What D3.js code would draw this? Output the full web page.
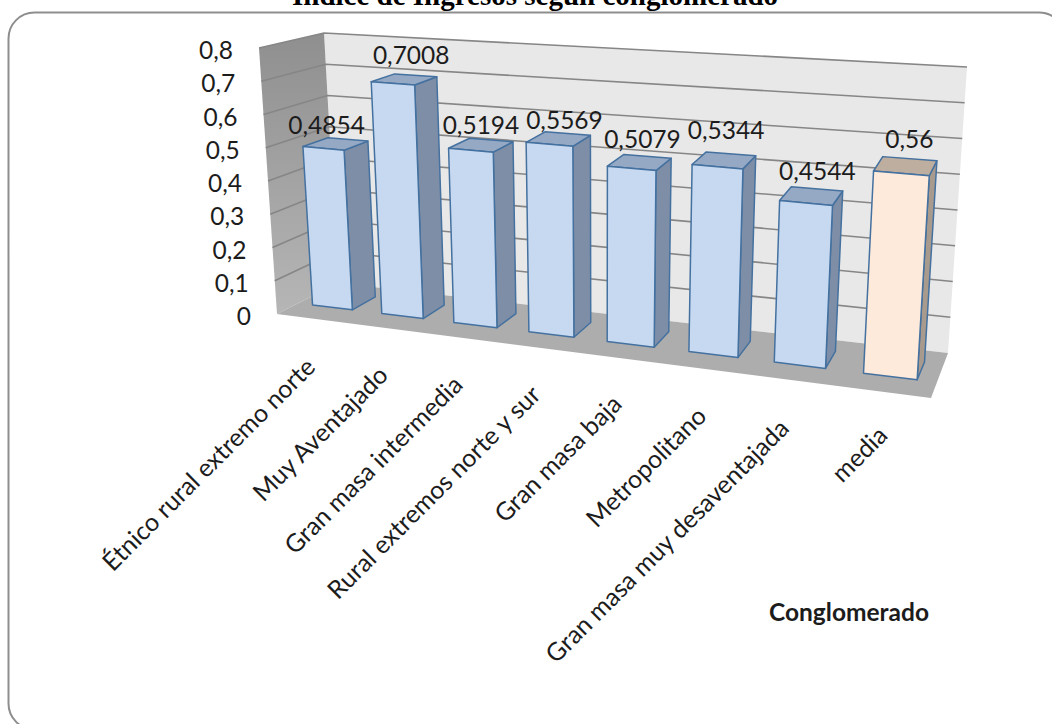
<!DOCTYPE html>
<html lang="es">
<head>
<meta charset="utf-8">
<title>Índice de Ingresos según conglomerado</title>
<script src="https://cdn.jsdelivr.net/npm/d3@7/dist/d3.min.js"></script>
<style>
  html, body { margin: 0; padding: 0; background: #fff; overflow: hidden; }
  svg { display: block; }
  text { fill: #1c1c1c; font-family: Lato, "Open Sans", sans-serif; }
</style>
</head>
<body>
<script>
// Chart content
const chartTitle = "Índice de Ingresos según conglomerado";
const axisTitle = "Conglomerado";
const categories = [
  "Étnico rural extremo norte", "Muy Aventajado", "Gran masa intermedia",
  "Rural extremos norte y sur", "Gran masa baja", "Metropolitano",
  "Gran masa muy desaventajada", "media"
];
const values = [0.4854, 0.7008, 0.5194, 0.5569, 0.5079, 0.5344, 0.4544, 0.56];
const valueTexts = ["0,4854", "0,7008", "0,5194", "0,5569", "0,5079", "0,5344", "0,4544", "0,56"];
const tickValues = [0, 0.1, 0.2, 0.3, 0.4, 0.5, 0.6, 0.7, 0.8];
const tickLabels = ["0", "0,1", "0,2", "0,3", "0,4", "0,5", "0,6", "0,7", "0,8"];

// Hand-placed value labels, as offsets from the top centre of each column
const labelShift = [[-9, -19], [7, -25], [0, -21], [6, -19], [3, -24], [2, -31], [6, -25], [4, -28]];
// Hand-placed category labels, as offsets from the end of each label's default spot
const categoryShift = [[-5, -2], [-4, -3], [-4, -3], [-4, -3], [-4, -4], [-4, -3], [-10, -2], [-4, -7]];

const W = 1052, H = 724;

// Screen position of the eight corners of the plot box: [s, d, z] in 0..1
const box = {
  "000": [277, 314], "100": [931, 398], "010": [338, 283], "110": [948, 353],
  "001": [259, 48],  "101": [949, 102], "011": [324, 33],  "111": [967, 67]
};

// Trilinear placement of a point inside the box
function place(s, d, z) {
  const out = [0, 0];
  for (const a of [0, 1]) for (const b of [0, 1]) for (const c of [0, 1]) {
    const k = (a ? s : 1 - s) * (b ? d : 1 - d) * (c ? z : 1 - z);
    const p = box[`${a}${b}${c}`];
    out[0] += k * p[0];
    out[1] += k * p[1];
  }
  return out;
}

// Foreshortening along the category axis
const foreshorten = 1.186;
const perspective = u => u / (u + (1 - u) * foreshorten);

const xBand = d3.scaleBand().domain(categories).range([0, 1]).paddingInner(0.42).paddingOuter(0.21);
const zScale = d3.scaleLinear().domain([0, 0.8]).range([0, 1]);
const depthFront = 0.35, depthBack = 0.75;

const polygon = d3.line();
const svg = d3.select("body").append("svg").attr("width", W).attr("height", H);

const defs = svg.append("defs");
const sideGrad = defs.append("linearGradient").attr("id", "sideWall")
  .attr("x1", 0).attr("y1", 0).attr("x2", 0).attr("y2", 1);
sideGrad.append("stop").attr("offset", 0).attr("stop-color", "#8f8f8f");
sideGrad.append("stop").attr("offset", 1).attr("stop-color", "#b6b6b6");

// Outer frame, running past the right and bottom of the page
svg.append("rect")
  .attr("x", 8.5).attr("y", 12.5).attr("width", 1056.5).attr("height", 717)
  .attr("rx", 26).attr("ry", 26)
  .attr("fill", "#fff").attr("stroke", "#8e8e8e").attr("stroke-width", 2);

// Title, cut by the top of the page
svg.append("text")
  .attr("x", 535).attr("y", 5).attr("text-anchor", "middle")
  .style("font-family", '"Liberation Serif", serif').style("font-weight", 700)
  .style("font-size", "29px").style("fill", "#000")
  .text(chartTitle);

const plot = svg.append("g");

// Walls and floor
const quad = pts => polygon(pts) + "Z";
plot.append("path").attr("d", quad([place(0, 1, 0), place(1, 1, 0), place(1, 1, 1), place(0, 1, 1)]))
  .attr("fill", "#e8e8e8");
plot.append("path").attr("d", quad([place(0, 0, 0), place(0, 1, 0), place(0, 1, 1), place(0, 0, 1)]))
  .attr("fill", "url(#sideWall)");
plot.append("path").attr("d", quad([place(0, 0, 0), place(1, 0, 0), place(1, 1, 0), place(0, 1, 0)]))
  .attr("fill", "#adadad");

// Gridlines along the side wall and the back wall
plot.selectAll("path.grid").data(tickValues.filter(v => v > 0)).join("path")
  .attr("class", "grid")
  .attr("d", v => polygon([place(0, 0, zScale(v)), place(0, 1, zScale(v)), place(1, 1, zScale(v))]))
  .attr("fill", "none").attr("stroke", "#868686").attr("stroke-width", 1.6);

// Columns
const columns = plot.selectAll("g.column").data(categories.map((c, i) => ({ c, i, v: values[i] }))).join("g")
  .attr("class", "column");

const colours = i => i === 7
  ? { front: "#fdeada", side: "#a89a8d", top: "#bdae9f" }
  : { front: "#c6d9f1", side: "#7e8ea7", top: "#95a8c4" };

function faces(d) {
  const a = perspective(xBand(d.c));
  const b = perspective(xBand(d.c) + xBand.bandwidth());
  const z = zScale(d.v);
  return {
    front: [place(a, depthFront, 0), place(b, depthFront, 0), place(b, depthFront, z), place(a, depthFront, z)],
    side: [place(b, depthFront, 0), place(b, depthBack, 0), place(b, depthBack, z), place(b, depthFront, z)],
    top: [place(a, depthFront, z), place(b, depthFront, z), place(b, depthBack, z), place(a, depthBack, z)]
  };
}

for (const face of ["side", "top", "front"]) {
  columns.append("path")
    .attr("d", d => quad(faces(d)[face]))
    .attr("fill", d => colours(d.i)[face])
    .attr("stroke", "#44719f").attr("stroke-width", 1.5).attr("stroke-linejoin", "round");
}

// Value labels
columns.append("text")
  .attr("transform", d => {
    const s = perspective(xBand(d.c) + xBand.bandwidth() / 2);
    const p = place(s, (depthFront + depthBack) / 2, zScale(d.v));
    const n = labelShift[d.i];
    return `translate(${p[0] + n[0]},${p[1] + n[1]})`;
  })
  .attr("text-anchor", "middle").attr("dominant-baseline", "central")
  .style("font-size", "24.5px")
  .text(d => valueTexts[d.i]);

// Value axis labels run along the front edge of the side wall
svg.selectAll("text.tick").data(tickValues).join("text")
  .attr("class", "tick")
  .attr("transform", (v) => {
    const p = place(0, 0, zScale(v));
    return `translate(${p[0] - 26},${p[1] + 1.5})`;
  })
  .attr("text-anchor", "end").attr("dominant-baseline", "central")
  .style("font-size", "24.5px")
  .text((v, i) => tickLabels[i]);

// Category labels, slanted at 45 degrees
svg.selectAll("text.category").data(categories).join("text")
  .attr("class", "category")
  .attr("transform", (c, i) => {
    const p = place(perspective(xBand(c) + xBand.bandwidth() / 2), 0, 0);
    const n = categoryShift[i];
    return `translate(${p[0] + 3 + n[0]},${p[1] + 45 + n[1]}) rotate(-45)`;
  })
  .attr("text-anchor", "end").attr("dominant-baseline", "central")
  .style("font-size", "25px")
  .text(c => c);

// Axis title
svg.append("text")
  .attr("x", 849).attr("y", 611).attr("text-anchor", "middle").attr("dominant-baseline", "central")
  .style("font-size", "24.5px").style("font-weight", 700)
  .text(axisTitle);
</script>
</body>
</html>
